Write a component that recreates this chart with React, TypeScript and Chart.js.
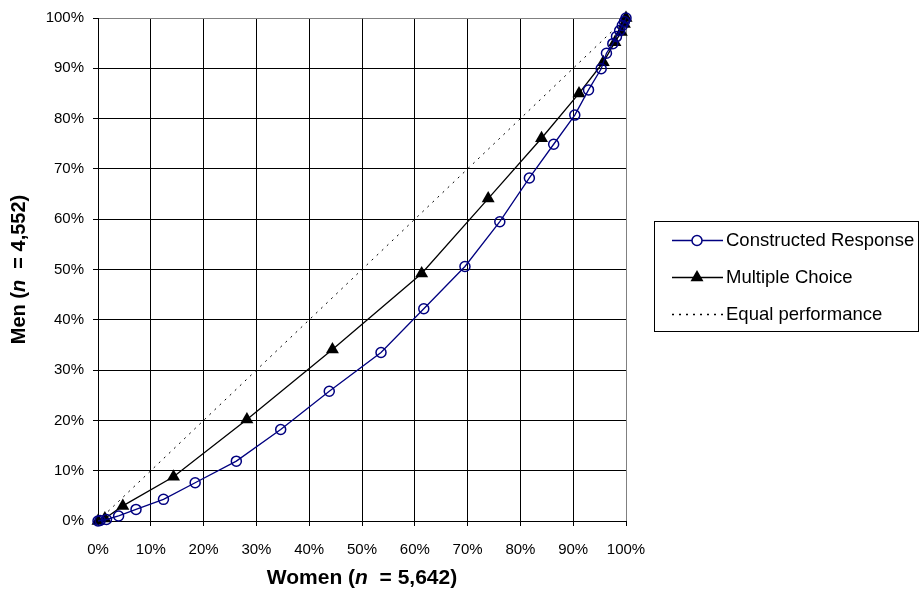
import React, { useEffect, useRef } from "react";
import { Chart, registerables } from "chart.js";
Chart.register(...registerables);

// ---- data ----
const crWomen = [0, 0.4, 1.6, 3.9, 7.2, 12.4, 18.4, 26.2, 34.6, 43.8, 53.6, 61.7, 69.5, 76.1, 81.7, 86.3, 90.3, 92.9, 95.3, 96.3, 97.5, 98.2, 98.8, 99.3, 99.7, 100];
const crMen = [0, 0.1, 0.3, 1.0, 2.3, 4.3, 7.6, 11.9, 18.2, 25.8, 33.5, 42.2, 50.6, 59.5, 68.2, 74.9, 80.7, 85.7, 89.9, 93.0, 94.9, 96.3, 97.5, 98.5, 99.3, 100];
const mcWomen = [0, 1.3, 4.7, 14.3, 28.2, 44.4, 61.3, 73.9, 84.0, 91.1, 95.7, 97.9, 99.1, 99.7, 100];
const mcMen = [0, 0.5, 3.0, 8.8, 20.2, 34.1, 49.2, 64.1, 76.1, 85.0, 91.2, 95.2, 97.2, 98.8, 100];
const eqWomen = [0, 100];
const eqMen = [0, 100];
const seriesNames = ["Constructed Response", "Multiple Choice", "Equal performance"];
const xTitleParts: [string, boolean][] = [["Women (", false], ["n", true], ["  = 5,642)", false]];
const yTitleParts: [string, boolean][] = [["Men (", false], ["n", true], ["  = 4,552)", false]];

const FONT = '"Liberation Sans", Arial, sans-serif';
const BLUE = "#000080";

function toPts(xs: number[], ys: number[]) {
  return xs.map((x, i) => ({ x, y: ys[i] }));
}

function drawRich(ctx: CanvasRenderingContext2D, parts: [string, boolean][], size: number) {
  const fonts = parts.map((p) => `${p[1] ? "italic " : ""}bold ${size}px ${FONT}`);
  const widths = parts.map((p, i) => {
    ctx.font = fonts[i];
    return ctx.measureText(p[0]).width;
  });
  const total = widths.reduce((a, b) => a + b, 0);
  let cx = -total / 2;
  ctx.textBaseline = "middle";
  ctx.textAlign = "left";
  ctx.fillStyle = "#000";
  parts.forEach((p, i) => {
    ctx.font = fonts[i];
    ctx.fillText(p[0], cx, 0);
    cx += widths[i];
  });
}

const overlayPlugin = {
  id: "overlay",
  afterDraw(chart: any) {
    const ctx: CanvasRenderingContext2D = chart.ctx;
    const area = chart.chartArea;
    ctx.save();
    // axis titles
    ctx.save();
    ctx.translate((area.left + area.right) / 2, 578);
    drawRich(ctx, xTitleParts, 21);
    ctx.restore();
    ctx.save();
    ctx.translate(19, (area.top + area.bottom) / 2);
    ctx.rotate(-Math.PI / 2);
    drawRich(ctx, yTitleParts, 20);
    ctx.restore();

    // legend
    const bx = 654.5, by = 221.5, bw = 264, bh = 110;
    ctx.strokeStyle = "#000";
    ctx.lineWidth = 1;
    ctx.setLineDash([]);
    ctx.strokeRect(bx, by, bw, bh);
    const rows = [240, 277, 314];
    const x0 = 672, x1 = 723, mx = 697;
    ctx.font = `18.5px ${FONT}`;
    ctx.textBaseline = "middle";
    ctx.textAlign = "left";
    rows.forEach((ry, i) => {
      const ds = chart.data.datasets[i];
      ctx.strokeStyle = ds.borderColor;
      ctx.lineWidth = 1.3;
      ctx.setLineDash(ds.borderDash || []);
      ctx.beginPath();
      ctx.moveTo(x0, ry + 0.5);
      ctx.lineTo(x1, ry + 0.5);
      ctx.stroke();
      ctx.setLineDash([]);
      if (i === 0) {
        ctx.beginPath();
        ctx.arc(mx, ry + 0.5, 5, 0, Math.PI * 2);
        ctx.fillStyle = "#fff";
        ctx.fill();
        ctx.lineWidth = 1.5;
        ctx.strokeStyle = BLUE;
        ctx.stroke();
      } else if (i === 1) {
        const r = 7.5;
        ctx.beginPath();
        ctx.moveTo(mx, ry + 0.5 - r);
        ctx.lineTo(mx + r * Math.sin((2 * Math.PI) / 3), ry + 0.5 + r / 2);
        ctx.lineTo(mx - r * Math.sin((2 * Math.PI) / 3), ry + 0.5 + r / 2);
        ctx.closePath();
        ctx.fillStyle = "#000";
        ctx.fill();
      }
      ctx.fillStyle = "#000";
      ctx.fillText(seriesNames[i], 726, ry + 1);
    });
    ctx.restore();
  },
};

export default function App() {
  const ref = useRef<HTMLCanvasElement>(null);
  useEffect(() => {
    document.body.style.margin = "0";
    const canvas = ref.current!;
    const gridColor = (c: any) => (c.tick && c.tick.value === 100 ? "#808080" : "#000");
    const chart = new Chart(canvas, {
      type: "scatter",
      data: {
        datasets: [
          {
            label: seriesNames[0],
            data: toPts(crWomen, crMen),
            showLine: true,
            borderColor: BLUE,
            backgroundColor: "rgba(0,0,0,0)",
            borderWidth: 1.3,
            pointStyle: "circle",
            pointRadius: 5,
            pointBorderWidth: 1.5,
            pointBorderColor: BLUE,
            pointBackgroundColor: "rgba(0,0,0,0)",
            clip: false as any,
            order: 1,
          },
          {
            label: seriesNames[1],
            data: toPts(mcWomen, mcMen),
            showLine: true,
            borderColor: "#000",
            backgroundColor: "#000",
            borderWidth: 1.3,
            pointStyle: "triangle",
            pointRadius: 7.5,
            pointBorderWidth: 0,
            pointBackgroundColor: "#000",
            clip: false as any,
            order: 2,
          },
          {
            label: seriesNames[2],
            data: toPts(eqWomen, eqMen),
            showLine: true,
            borderColor: "#000",
            borderWidth: 1,
            borderDash: [2, 5],
            pointRadius: 0,
            order: 3,
          },
        ],
      },
      options: {
        responsive: false,
        animation: false,
        devicePixelRatio: 1,
        layout: { padding: { left: 0, top: 16, right: 295, bottom: 0 } },
        plugins: { legend: { display: false }, tooltip: { enabled: false } },
        scales: {
          x: {
            type: "linear",
            min: 0,
            max: 100,
            afterFit: (s: any) => {
              s.height = 69;
            },
            ticks: {
              stepSize: 10,
              callback: (v: any) => v + "%",
              font: { family: FONT, size: 15 },
              color: "#000",
              padding: 15,
              maxRotation: 0,
            },
            grid: { color: gridColor, lineWidth: 1, tickLength: 5, tickColor: "#000" },
            border: { color: "#000", width: 1 },
          },
          y: {
            type: "linear",
            min: 0,
            max: 100,
            afterFit: (s: any) => {
              s.width = 98;
            },
            ticks: {
              stepSize: 10,
              callback: (v: any) => v + "%",
              font: { family: FONT, size: 15 },
              color: "#000",
              padding: 9,
            },
            grid: { color: gridColor, lineWidth: 1, tickLength: 5, tickColor: "#000" },
            border: { color: "#000", width: 1 },
          },
        },
      },
      plugins: [overlayPlugin],
    });
    return () => chart.destroy();
  }, []);
  return (
    <div style={{ position: "absolute", left: 0, top: 0, width: 921, height: 590, background: "#fff" }}>
      <canvas ref={ref} width={921} height={590} style={{ display: "block" }} />
    </div>
  );
}
